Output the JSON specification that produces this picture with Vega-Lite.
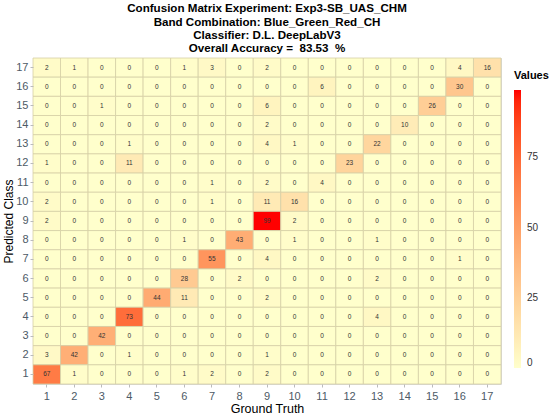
{
  "$schema": "https://vega.github.io/schema/vega-lite/v6.json",
  "width": 468,
  "height": 326,
  "autosize": {"type": "none"},
  "padding": {"left": 33, "top": 58, "right": 49, "bottom": 31},
  "background": "white",
  "config": {
    "font": "Liberation Sans",
    "view": {"stroke": "#d9d9d9", "strokeWidth": 1}
  },
  "title": {
    "text": ["Confusion Matrix Experiment: Exp3-SB_UAS_CHM", "Band Combination: Blue_Green_Red_CH", "Classifier: D.L. DeepLabV3", "Overall Accuracy = \u00a083.53 \u00a0%"],
    "fontSize": 11.6,
    "fontWeight": "bold",
    "lineHeight": 13.2,
    "color": "black",
    "anchor": "middle",
    "offset": 3
  },
  "data": {
    "values": [
      {"g":1,"p":17,"v":2},{"g":2,"p":17,"v":1},{"g":3,"p":17,"v":0},{"g":4,"p":17,"v":0},{"g":5,"p":17,"v":0},{"g":6,"p":17,"v":1},{"g":7,"p":17,"v":3},{"g":8,"p":17,"v":0},{"g":9,"p":17,"v":2},{"g":10,"p":17,"v":0},{"g":11,"p":17,"v":0},{"g":12,"p":17,"v":0},{"g":13,"p":17,"v":0},{"g":14,"p":17,"v":0},{"g":15,"p":17,"v":0},{"g":16,"p":17,"v":4},{"g":17,"p":17,"v":16},
      {"g":1,"p":16,"v":0},{"g":2,"p":16,"v":0},{"g":3,"p":16,"v":0},{"g":4,"p":16,"v":0},{"g":5,"p":16,"v":0},{"g":6,"p":16,"v":0},{"g":7,"p":16,"v":0},{"g":8,"p":16,"v":0},{"g":9,"p":16,"v":0},{"g":10,"p":16,"v":0},{"g":11,"p":16,"v":6},{"g":12,"p":16,"v":0},{"g":13,"p":16,"v":0},{"g":14,"p":16,"v":0},{"g":15,"p":16,"v":0},{"g":16,"p":16,"v":30},{"g":17,"p":16,"v":0},
      {"g":1,"p":15,"v":0},{"g":2,"p":15,"v":0},{"g":3,"p":15,"v":1},{"g":4,"p":15,"v":0},{"g":5,"p":15,"v":0},{"g":6,"p":15,"v":0},{"g":7,"p":15,"v":0},{"g":8,"p":15,"v":0},{"g":9,"p":15,"v":6},{"g":10,"p":15,"v":0},{"g":11,"p":15,"v":0},{"g":12,"p":15,"v":0},{"g":13,"p":15,"v":0},{"g":14,"p":15,"v":0},{"g":15,"p":15,"v":26},{"g":16,"p":15,"v":0},{"g":17,"p":15,"v":0},
      {"g":1,"p":14,"v":0},{"g":2,"p":14,"v":0},{"g":3,"p":14,"v":0},{"g":4,"p":14,"v":0},{"g":5,"p":14,"v":0},{"g":6,"p":14,"v":0},{"g":7,"p":14,"v":0},{"g":8,"p":14,"v":0},{"g":9,"p":14,"v":2},{"g":10,"p":14,"v":0},{"g":11,"p":14,"v":0},{"g":12,"p":14,"v":0},{"g":13,"p":14,"v":0},{"g":14,"p":14,"v":10},{"g":15,"p":14,"v":0},{"g":16,"p":14,"v":0},{"g":17,"p":14,"v":0},
      {"g":1,"p":13,"v":0},{"g":2,"p":13,"v":0},{"g":3,"p":13,"v":0},{"g":4,"p":13,"v":1},{"g":5,"p":13,"v":0},{"g":6,"p":13,"v":0},{"g":7,"p":13,"v":0},{"g":8,"p":13,"v":0},{"g":9,"p":13,"v":4},{"g":10,"p":13,"v":1},{"g":11,"p":13,"v":0},{"g":12,"p":13,"v":0},{"g":13,"p":13,"v":22},{"g":14,"p":13,"v":0},{"g":15,"p":13,"v":0},{"g":16,"p":13,"v":0},{"g":17,"p":13,"v":0},
      {"g":1,"p":12,"v":1},{"g":2,"p":12,"v":0},{"g":3,"p":12,"v":0},{"g":4,"p":12,"v":11},{"g":5,"p":12,"v":0},{"g":6,"p":12,"v":0},{"g":7,"p":12,"v":0},{"g":8,"p":12,"v":0},{"g":9,"p":12,"v":0},{"g":10,"p":12,"v":0},{"g":11,"p":12,"v":0},{"g":12,"p":12,"v":23},{"g":13,"p":12,"v":0},{"g":14,"p":12,"v":0},{"g":15,"p":12,"v":0},{"g":16,"p":12,"v":0},{"g":17,"p":12,"v":0},
      {"g":1,"p":11,"v":0},{"g":2,"p":11,"v":0},{"g":3,"p":11,"v":0},{"g":4,"p":11,"v":0},{"g":5,"p":11,"v":0},{"g":6,"p":11,"v":0},{"g":7,"p":11,"v":1},{"g":8,"p":11,"v":0},{"g":9,"p":11,"v":2},{"g":10,"p":11,"v":0},{"g":11,"p":11,"v":4},{"g":12,"p":11,"v":0},{"g":13,"p":11,"v":0},{"g":14,"p":11,"v":0},{"g":15,"p":11,"v":0},{"g":16,"p":11,"v":0},{"g":17,"p":11,"v":0},
      {"g":1,"p":10,"v":2},{"g":2,"p":10,"v":0},{"g":3,"p":10,"v":0},{"g":4,"p":10,"v":0},{"g":5,"p":10,"v":0},{"g":6,"p":10,"v":0},{"g":7,"p":10,"v":1},{"g":8,"p":10,"v":0},{"g":9,"p":10,"v":11},{"g":10,"p":10,"v":16},{"g":11,"p":10,"v":0},{"g":12,"p":10,"v":0},{"g":13,"p":10,"v":0},{"g":14,"p":10,"v":0},{"g":15,"p":10,"v":0},{"g":16,"p":10,"v":0},{"g":17,"p":10,"v":0},
      {"g":1,"p":9,"v":2},{"g":2,"p":9,"v":0},{"g":3,"p":9,"v":0},{"g":4,"p":9,"v":0},{"g":5,"p":9,"v":0},{"g":6,"p":9,"v":0},{"g":7,"p":9,"v":0},{"g":8,"p":9,"v":0},{"g":9,"p":9,"v":99},{"g":10,"p":9,"v":2},{"g":11,"p":9,"v":0},{"g":12,"p":9,"v":0},{"g":13,"p":9,"v":0},{"g":14,"p":9,"v":0},{"g":15,"p":9,"v":0},{"g":16,"p":9,"v":0},{"g":17,"p":9,"v":0},
      {"g":1,"p":8,"v":0},{"g":2,"p":8,"v":0},{"g":3,"p":8,"v":0},{"g":4,"p":8,"v":0},{"g":5,"p":8,"v":0},{"g":6,"p":8,"v":1},{"g":7,"p":8,"v":0},{"g":8,"p":8,"v":43},{"g":9,"p":8,"v":0},{"g":10,"p":8,"v":1},{"g":11,"p":8,"v":0},{"g":12,"p":8,"v":0},{"g":13,"p":8,"v":1},{"g":14,"p":8,"v":0},{"g":15,"p":8,"v":0},{"g":16,"p":8,"v":0},{"g":17,"p":8,"v":0},
      {"g":1,"p":7,"v":0},{"g":2,"p":7,"v":0},{"g":3,"p":7,"v":0},{"g":4,"p":7,"v":0},{"g":5,"p":7,"v":0},{"g":6,"p":7,"v":0},{"g":7,"p":7,"v":55},{"g":8,"p":7,"v":0},{"g":9,"p":7,"v":4},{"g":10,"p":7,"v":0},{"g":11,"p":7,"v":0},{"g":12,"p":7,"v":0},{"g":13,"p":7,"v":0},{"g":14,"p":7,"v":0},{"g":15,"p":7,"v":0},{"g":16,"p":7,"v":1},{"g":17,"p":7,"v":0},
      {"g":1,"p":6,"v":0},{"g":2,"p":6,"v":0},{"g":3,"p":6,"v":0},{"g":4,"p":6,"v":0},{"g":5,"p":6,"v":0},{"g":6,"p":6,"v":28},{"g":7,"p":6,"v":0},{"g":8,"p":6,"v":2},{"g":9,"p":6,"v":0},{"g":10,"p":6,"v":0},{"g":11,"p":6,"v":0},{"g":12,"p":6,"v":0},{"g":13,"p":6,"v":2},{"g":14,"p":6,"v":0},{"g":15,"p":6,"v":0},{"g":16,"p":6,"v":0},{"g":17,"p":6,"v":0},
      {"g":1,"p":5,"v":0},{"g":2,"p":5,"v":0},{"g":3,"p":5,"v":0},{"g":4,"p":5,"v":0},{"g":5,"p":5,"v":44},{"g":6,"p":5,"v":11},{"g":7,"p":5,"v":0},{"g":8,"p":5,"v":0},{"g":9,"p":5,"v":2},{"g":10,"p":5,"v":0},{"g":11,"p":5,"v":0},{"g":12,"p":5,"v":0},{"g":13,"p":5,"v":0},{"g":14,"p":5,"v":0},{"g":15,"p":5,"v":0},{"g":16,"p":5,"v":0},{"g":17,"p":5,"v":0},
      {"g":1,"p":4,"v":0},{"g":2,"p":4,"v":0},{"g":3,"p":4,"v":0},{"g":4,"p":4,"v":73},{"g":5,"p":4,"v":0},{"g":6,"p":4,"v":0},{"g":7,"p":4,"v":0},{"g":8,"p":4,"v":0},{"g":9,"p":4,"v":0},{"g":10,"p":4,"v":0},{"g":11,"p":4,"v":0},{"g":12,"p":4,"v":0},{"g":13,"p":4,"v":4},{"g":14,"p":4,"v":0},{"g":15,"p":4,"v":0},{"g":16,"p":4,"v":0},{"g":17,"p":4,"v":0},
      {"g":1,"p":3,"v":0},{"g":2,"p":3,"v":0},{"g":3,"p":3,"v":42},{"g":4,"p":3,"v":0},{"g":5,"p":3,"v":0},{"g":6,"p":3,"v":0},{"g":7,"p":3,"v":0},{"g":8,"p":3,"v":0},{"g":9,"p":3,"v":0},{"g":10,"p":3,"v":0},{"g":11,"p":3,"v":0},{"g":12,"p":3,"v":0},{"g":13,"p":3,"v":0},{"g":14,"p":3,"v":0},{"g":15,"p":3,"v":0},{"g":16,"p":3,"v":0},{"g":17,"p":3,"v":0},
      {"g":1,"p":2,"v":3},{"g":2,"p":2,"v":42},{"g":3,"p":2,"v":0},{"g":4,"p":2,"v":1},{"g":5,"p":2,"v":0},{"g":6,"p":2,"v":0},{"g":7,"p":2,"v":0},{"g":8,"p":2,"v":0},{"g":9,"p":2,"v":1},{"g":10,"p":2,"v":0},{"g":11,"p":2,"v":0},{"g":12,"p":2,"v":0},{"g":13,"p":2,"v":0},{"g":14,"p":2,"v":0},{"g":15,"p":2,"v":0},{"g":16,"p":2,"v":0},{"g":17,"p":2,"v":0},
      {"g":1,"p":1,"v":67},{"g":2,"p":1,"v":1},{"g":3,"p":1,"v":0},{"g":4,"p":1,"v":0},{"g":5,"p":1,"v":0},{"g":6,"p":1,"v":1},{"g":7,"p":1,"v":2},{"g":8,"p":1,"v":0},{"g":9,"p":1,"v":2},{"g":10,"p":1,"v":0},{"g":11,"p":1,"v":0},{"g":12,"p":1,"v":0},{"g":13,"p":1,"v":0},{"g":14,"p":1,"v":0},{"g":15,"p":1,"v":0},{"g":16,"p":1,"v":0},{"g":17,"p":1,"v":0}
    ]
  },
  "encoding": {
    "x": {
      "field": "g",
      "type": "ordinal",
      "sort": "ascending",
      "title": "Ground Truth",
      "scale": {"paddingInner": 0, "paddingOuter": 0},
      "axis": {
        "labelAngle": 0,
        "labelFontSize": 11,
        "labelColor": "#4d5a66",
        "labelPadding": 3,
        "tickColor": "#bbbbbb",
        "tickSize": 3,
        "domain": false,
        "titleFontSize": 12.5,
        "titleFontWeight": "normal",
        "titleColor": "black",
        "titlePadding": 1
      }
    },
    "y": {
      "field": "p",
      "type": "ordinal",
      "sort": "descending",
      "title": "Predicted Class",
      "scale": {"paddingInner": 0, "paddingOuter": 0},
      "axis": {
        "labelFontSize": 11,
        "labelColor": "#4d5a66",
        "labelPadding": 2,
        "tickColor": "#bbbbbb",
        "tickSize": 3,
        "domain": false,
        "titleFontSize": 12,
        "titleFontWeight": "normal",
        "titleColor": "black",
        "titlePadding": 0
      }
    }
  },
  "layer": [
    {
      "mark": {"type": "rect", "stroke": "#d6cfa6", "strokeWidth": 0.8},
      "encoding": {
        "color": {
          "field": "v",
          "type": "quantitative",
          "title": "Values",
          "scale": {"domain": [0, 99], "range": ["#FFFFCC", "#FF0000"], "interpolate": "lab"},
          "legend": {
            "orient": "none",
            "legendX": 481,
            "legendY": 12,
            "gradientLength": 278,
            "gradientThickness": 7,
            "values": [0, 25, 50, 75],
            "titleFontSize": 11,
            "titleFontWeight": "bold",
            "titleColor": "black",
            "titlePadding": 9,
            "labelFontSize": 10,
            "labelColor": "#333333",
            "labelOffset": 6,
            "tickCount": 4
          }
        }
      }
    },
    {
      "mark": {"type": "text", "fontSize": 6.5, "color": "#333333"},
      "encoding": {
        "text": {"field": "v", "type": "quantitative"}
      }
    }
  ]
}
